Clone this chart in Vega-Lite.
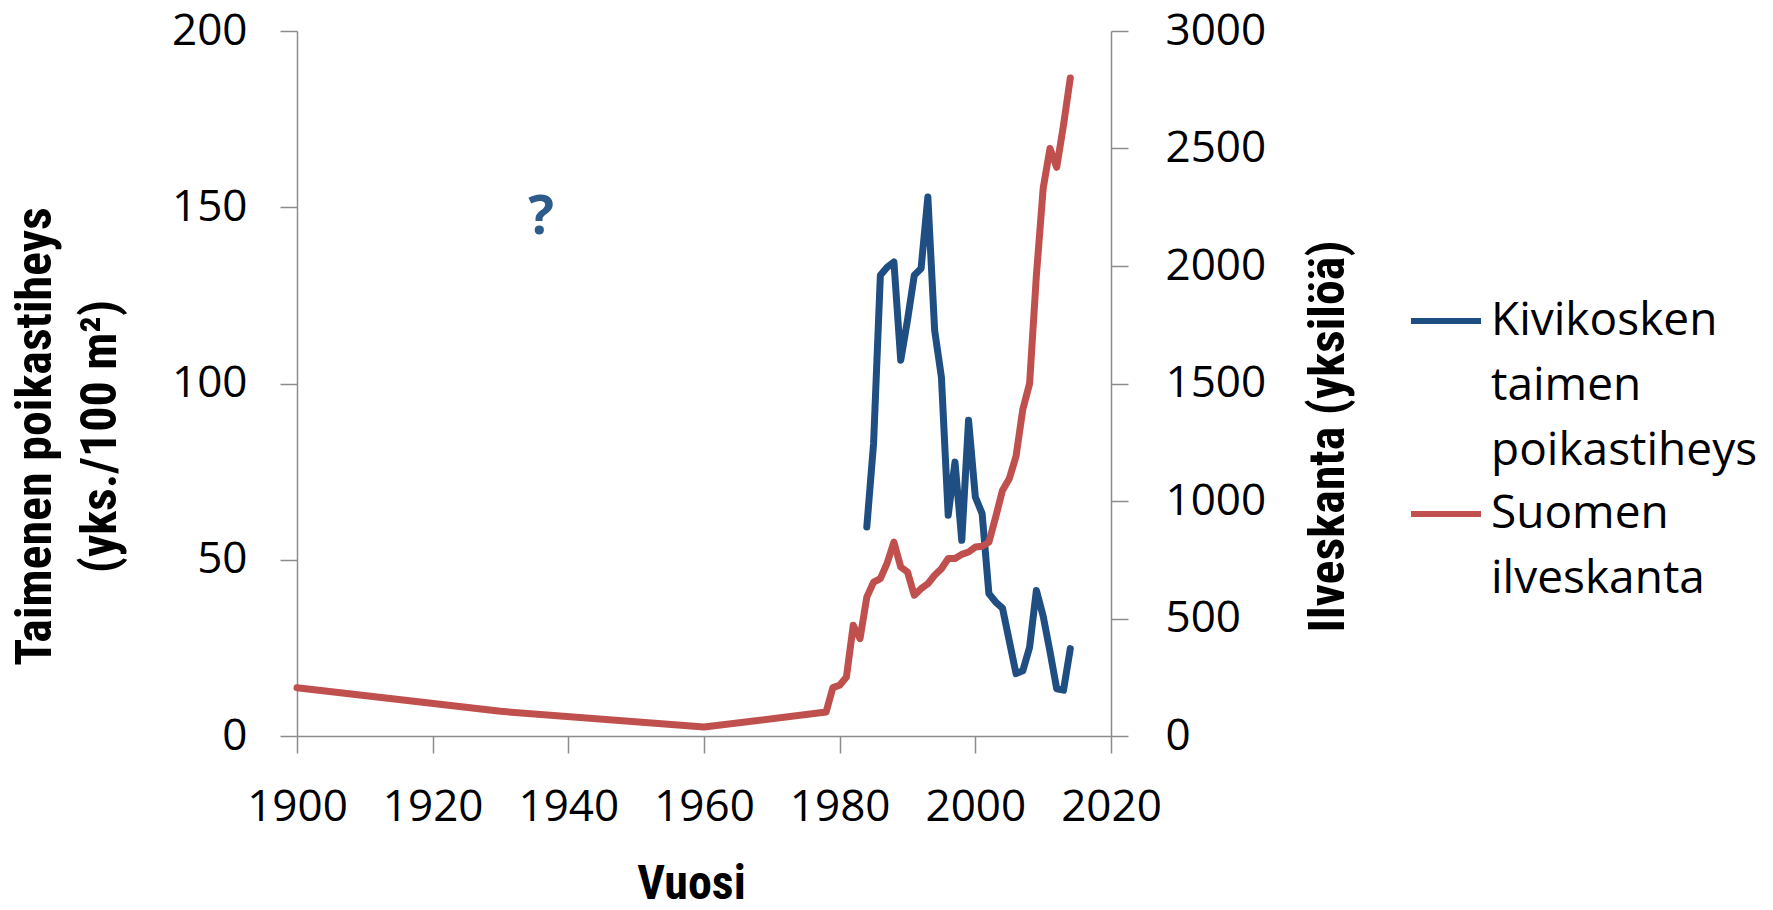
{
  "$schema": "https://vega.github.io/schema/vega-lite/v6.json",
  "width": 814,
  "height": 705,
  "autosize": {"type": "none"},
  "padding": {"left": 297, "top": 31, "right": 662, "bottom": 174},
  "background": "white",
  "config": {
    "view": {"stroke": null},
    "font": "Open Sans",
    "style": {"guide-label": {"lineHeight": 65}},
    "axis": {
      "domainColor": "#8c8c8c",
      "tickColor": "#8c8c8c",
      "domainWidth": 1.5,
      "tickWidth": 1.5,
      "tickSize": 17,
      "grid": false,
      "labelFont": "Open Sans",
      "labelFontSize": 44,
      "labelColor": "#000000",
      "labelOverlap": false,
      "labelBound": false,
      "labelFlush": false,
      "titleFont": "Liberation Sans Narrow, Roboto Condensed, Open Sans",
      "titleFontWeight": "bold",
      "titleFontSize": 50,
      "titleColor": "#000000"
    }
  },
  "datasets": {
    "trout": [
      {"year": 1984, "value": 59.3, "series": "Kivikosken taimen poikastiheys"},
      {"year": 1985, "value": 83, "series": "Kivikosken taimen poikastiheys"},
      {"year": 1986, "value": 130.7, "series": "Kivikosken taimen poikastiheys"},
      {"year": 1987, "value": 133, "series": "Kivikosken taimen poikastiheys"},
      {"year": 1988, "value": 134.5, "series": "Kivikosken taimen poikastiheys"},
      {"year": 1989, "value": 106.6, "series": "Kivikosken taimen poikastiheys"},
      {"year": 1990, "value": 118, "series": "Kivikosken taimen poikastiheys"},
      {"year": 1991, "value": 130.7, "series": "Kivikosken taimen poikastiheys"},
      {"year": 1992, "value": 132.6, "series": "Kivikosken taimen poikastiheys"},
      {"year": 1993, "value": 152.9, "series": "Kivikosken taimen poikastiheys"},
      {"year": 1994, "value": 115.1, "series": "Kivikosken taimen poikastiheys"},
      {"year": 1995, "value": 101.8, "series": "Kivikosken taimen poikastiheys"},
      {"year": 1996, "value": 62.6, "series": "Kivikosken taimen poikastiheys"},
      {"year": 1997, "value": 77.7, "series": "Kivikosken taimen poikastiheys"},
      {"year": 1998, "value": 55.5, "series": "Kivikosken taimen poikastiheys"},
      {"year": 1999, "value": 89.6, "series": "Kivikosken taimen poikastiheys"},
      {"year": 2000, "value": 67.8, "series": "Kivikosken taimen poikastiheys"},
      {"year": 2001, "value": 63.1, "series": "Kivikosken taimen poikastiheys"},
      {"year": 2002, "value": 40.4, "series": "Kivikosken taimen poikastiheys"},
      {"year": 2003, "value": 38, "series": "Kivikosken taimen poikastiheys"},
      {"year": 2004, "value": 36.3, "series": "Kivikosken taimen poikastiheys"},
      {"year": 2005, "value": 27, "series": "Kivikosken taimen poikastiheys"},
      {"year": 2006, "value": 17.7, "series": "Kivikosken taimen poikastiheys"},
      {"year": 2007, "value": 18.5, "series": "Kivikosken taimen poikastiheys"},
      {"year": 2008, "value": 25.2, "series": "Kivikosken taimen poikastiheys"},
      {"year": 2009, "value": 41.3, "series": "Kivikosken taimen poikastiheys"},
      {"year": 2010, "value": 34, "series": "Kivikosken taimen poikastiheys"},
      {"year": 2011, "value": 24, "series": "Kivikosken taimen poikastiheys"},
      {"year": 2012, "value": 13.4, "series": "Kivikosken taimen poikastiheys"},
      {"year": 2013, "value": 13, "series": "Kivikosken taimen poikastiheys"},
      {"year": 2014, "value": 24.8, "series": "Kivikosken taimen poikastiheys"}
    ],
    "lynx": [
      {"year": 1900, "value": 205, "series": "Suomen ilveskanta"},
      {"year": 1930, "value": 105, "series": "Suomen ilveskanta"},
      {"year": 1960, "value": 38, "series": "Suomen ilveskanta"},
      {"year": 1978, "value": 102, "series": "Suomen ilveskanta"},
      {"year": 1979, "value": 206, "series": "Suomen ilveskanta"},
      {"year": 1980, "value": 216, "series": "Suomen ilveskanta"},
      {"year": 1981, "value": 251, "series": "Suomen ilveskanta"},
      {"year": 1982, "value": 471, "series": "Suomen ilveskanta"},
      {"year": 1983, "value": 414, "series": "Suomen ilveskanta"},
      {"year": 1984, "value": 591, "series": "Suomen ilveskanta"},
      {"year": 1985, "value": 655, "series": "Suomen ilveskanta"},
      {"year": 1986, "value": 670, "series": "Suomen ilveskanta"},
      {"year": 1987, "value": 736, "series": "Suomen ilveskanta"},
      {"year": 1988, "value": 825, "series": "Suomen ilveskanta"},
      {"year": 1989, "value": 719, "series": "Suomen ilveskanta"},
      {"year": 1990, "value": 698, "series": "Suomen ilveskanta"},
      {"year": 1991, "value": 599, "series": "Suomen ilveskanta"},
      {"year": 1992, "value": 627, "series": "Suomen ilveskanta"},
      {"year": 1993, "value": 648, "series": "Suomen ilveskanta"},
      {"year": 1994, "value": 684, "series": "Suomen ilveskanta"},
      {"year": 1995, "value": 712, "series": "Suomen ilveskanta"},
      {"year": 1996, "value": 755, "series": "Suomen ilveskanta"},
      {"year": 1997, "value": 755, "series": "Suomen ilveskanta"},
      {"year": 1998, "value": 773, "series": "Suomen ilveskanta"},
      {"year": 1999, "value": 783, "series": "Suomen ilveskanta"},
      {"year": 2000, "value": 804, "series": "Suomen ilveskanta"},
      {"year": 2001, "value": 807, "series": "Suomen ilveskanta"},
      {"year": 2002, "value": 825, "series": "Suomen ilveskanta"},
      {"year": 2003, "value": 932, "series": "Suomen ilveskanta"},
      {"year": 2004, "value": 1045, "series": "Suomen ilveskanta"},
      {"year": 2005, "value": 1095, "series": "Suomen ilveskanta"},
      {"year": 2006, "value": 1190, "series": "Suomen ilveskanta"},
      {"year": 2007, "value": 1390, "series": "Suomen ilveskanta"},
      {"year": 2008, "value": 1500, "series": "Suomen ilveskanta"},
      {"year": 2009, "value": 1960, "series": "Suomen ilveskanta"},
      {"year": 2010, "value": 2330, "series": "Suomen ilveskanta"},
      {"year": 2011, "value": 2500, "series": "Suomen ilveskanta"},
      {"year": 2012, "value": 2420, "series": "Suomen ilveskanta"},
      {"year": 2013, "value": 2600, "series": "Suomen ilveskanta"},
      {"year": 2014, "value": 2800, "series": "Suomen ilveskanta"}
    ],
    "note": [
      {"year": 1936, "value": 147, "label": "?"}
    ]
  },
  "layer": [
    {
      "layer": [
        {
          "data": {"name": "trout"},
          "mark": {"type": "line", "strokeWidth": 7, "strokeCap": "round", "strokeJoin": "round"},
          "encoding": {
            "x": {
              "field": "year", "type": "quantitative",
              "scale": {"domain": [1900, 2020], "nice": false, "zero": false},
              "axis": {
                "values": [1900, 1920, 1940, 1960, 1980, 2000, 2020],
                "format": "d",
                "labelPadding": 32,
                "title": "Vuosi",
                "titleX": 394,
                "titleY": 162,
                "titleAlign": "center",
                "titleBaseline": "alphabetic",
                "titleFontSize": 48,
                "titleAnchor": null
              }
            },
            "y": {
              "field": "value", "type": "quantitative",
              "scale": {"domain": [0, 200], "nice": false},
              "axis": {
                "values": [0, 50, 100, 150, 200],
                "labelPadding": 33,
                "title": ["Taimenen poikastiheys", "(yks./100 m²)"],
                "titleAngle": -90,
                "titleX": -247,
                "titleY": 405,
                "titleAlign": "center",
                "titleBaseline": "alphabetic",
                "titleLineHeight": 65
              }
            },
            "color": {
              "field": "series", "type": "nominal",
              "scale": {
                "domain": ["Kivikosken taimen poikastiheys", "Suomen ilveskanta"],
                "range": ["#1F4E82", "#C0504D"]
              },
              "legend": {
                "orient": "none",
                "legendX": 1111,
                "legendY": 252,
                "title": null,
                "symbolType": "stroke",
                "symbolSize": 4900,
                "symbolStrokeWidth": 6,
                "labelExpr": "split(datum.label, ' ')",
                "labelFont": "Open Sans",
                "labelFontSize": 46,
                "labelColor": "#000000",
                "labelLimit": 500,
                "labelOffset": 7,
                "labelBaseline": "middle",
                "rowPadding": 2
              }
            }
          }
        },
        {
          "data": {"name": "note"},
          "mark": {"type": "text", "fontSize": 54, "fontWeight": "bold", "color": "#2E5C8A", "font": "Open Sans"},
          "encoding": {
            "x": {"field": "year", "type": "quantitative"},
            "y": {"field": "value", "type": "quantitative"},
            "text": {"field": "label"}
          }
        }
      ]
    },
    {
      "data": {"name": "lynx"},
      "mark": {"type": "line", "strokeWidth": 7, "strokeCap": "round", "strokeJoin": "round"},
      "encoding": {
        "x": {"field": "year", "type": "quantitative"},
        "y": {
          "field": "value", "type": "quantitative",
          "scale": {"domain": [0, 3000], "nice": false},
          "axis": {
            "orient": "right",
            "values": [0, 500, 1000, 1500, 2000, 2500, 3000],
            "format": "d",
            "labelPadding": 37,
            "title": "Ilveskanta (yksilöä)",
            "titleAngle": -90,
            "titleX": 232,
            "titleY": 405,
            "titleAlign": "center",
            "titleBaseline": "alphabetic"
          }
        },
        "color": {"field": "series", "type": "nominal"}
      }
    }
  ],
  "resolve": {"scale": {"y": "independent"}}
}
